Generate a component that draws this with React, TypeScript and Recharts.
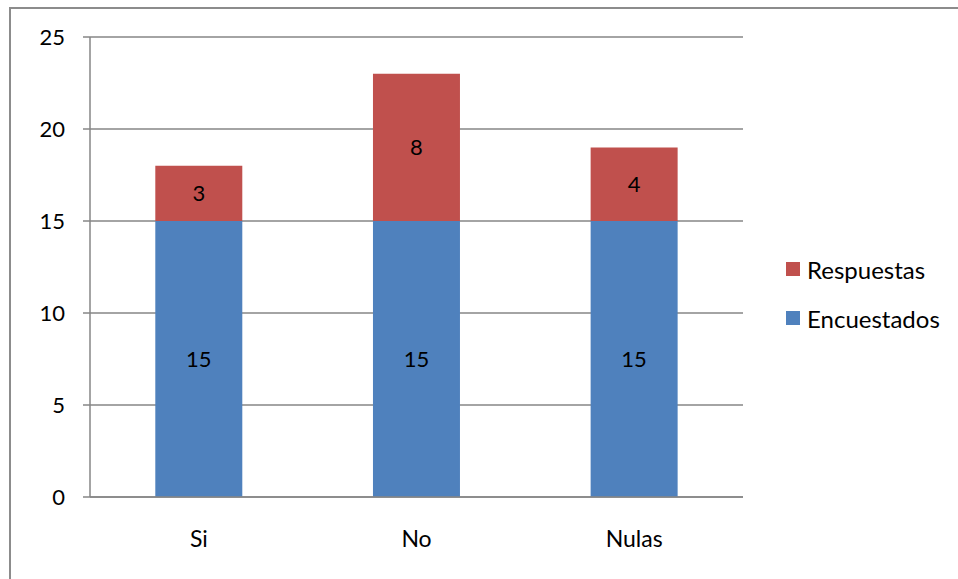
import { Bar, BarChart, CartesianGrid, LabelList, Legend, XAxis, YAxis } from "recharts";

const categories = ["Si", "No", "Nulas"];
const encuestados = [15, 15, 15];
const respuestas = [3, 8, 4];
const yTicks = [0, 5, 10, 15, 20, 25];
const edgeTicks = [0, 1, 2, 3];

const data = categories.map((name, i) => ({
  name,
  encuestados: encuestados[i],
  respuestas: respuestas[i],
}));

const FONT = "Lato, 'Open Sans', sans-serif";
const GRID = "#868686";

function LegendBox({ payload }: { payload?: any[] }) {
  const items = [...(payload ?? [])].reverse();
  return (
    <div style={{ fontFamily: FONT, fontSize: 24, color: "#000" }}>
      {items.map((it) => (
        <div key={it.value} style={{ display: "flex", alignItems: "center", height: 49 }}>
          <span style={{ width: 14, height: 14, background: it.color, marginRight: 7, display: "inline-block" }} />
          <span>{it.value}</span>
        </div>
      ))}
    </div>
  );
}

export default function App() {
  return (
    <div style={{ position: "fixed", left: 0, top: 0, width: 958, height: 579, overflow: "hidden", background: "#fff" }}>
      {/* outer chart frame, right and bottom edges fall off the page */}
      <div
        style={{
          position: "absolute",
          left: 9,
          top: 7,
          width: 1000,
          height: 1000,
          border: "2px solid #8c8c8c",
        }}
      />
      <div style={{ position: "absolute", left: 8, top: 8 }}>
        <BarChart
          width={950}
          height={571}
          data={data}
          barCategoryGap="30%"
          margin={{ top: 29, right: 50, left: 0, bottom: 0 }}
        >
          <CartesianGrid stroke={GRID} strokeWidth={1.5} vertical={false} />
          <XAxis
            xAxisId="edges"
            type="number"
            domain={[0, 3]}
            ticks={edgeTicks}
            height={0}
            axisLine={false}
            tickLine={{ stroke: GRID, strokeWidth: 1.5 }}
            tickSize={7}
            tickFormatter={() => ""}
          />
          <XAxis
            dataKey="name"
            height={82}
            axisLine={{ stroke: GRID, strokeWidth: 1.5 }}
            tickLine={false}
            tickSize={0}
            tickMargin={34}
            tick={{ fill: "#000", fontSize: 23, fontFamily: FONT }}
          />
          <YAxis
            width={82}
            domain={[0, 25]}
            ticks={yTicks}
            axisLine={{ stroke: GRID, strokeWidth: 1.5 }}
            tickLine={{ stroke: GRID, strokeWidth: 1.5 }}
            tickSize={7}
            tickMargin={18}
            tick={{ fill: "#000", fontSize: 22, fontFamily: FONT }}
          />
          <Legend
            layout="vertical"
            align="right"
            verticalAlign="middle"
            wrapperStyle={{ right: 7, width: 165 }}
            content={<LegendBox />}
          />
          <Bar dataKey="encuestados" name="Encuestados" stackId="a" fill="#4F81BD" isAnimationActive={false}>
            <LabelList dataKey="encuestados" position="center" fill="#000" fontSize={22} fontFamily={FONT} />
          </Bar>
          <Bar dataKey="respuestas" name="Respuestas" stackId="a" fill="#C0504D" isAnimationActive={false}>
            <LabelList dataKey="respuestas" position="center" fill="#000" fontSize={22} fontFamily={FONT} />
          </Bar>
        </BarChart>
      </div>
    </div>
  );
}
